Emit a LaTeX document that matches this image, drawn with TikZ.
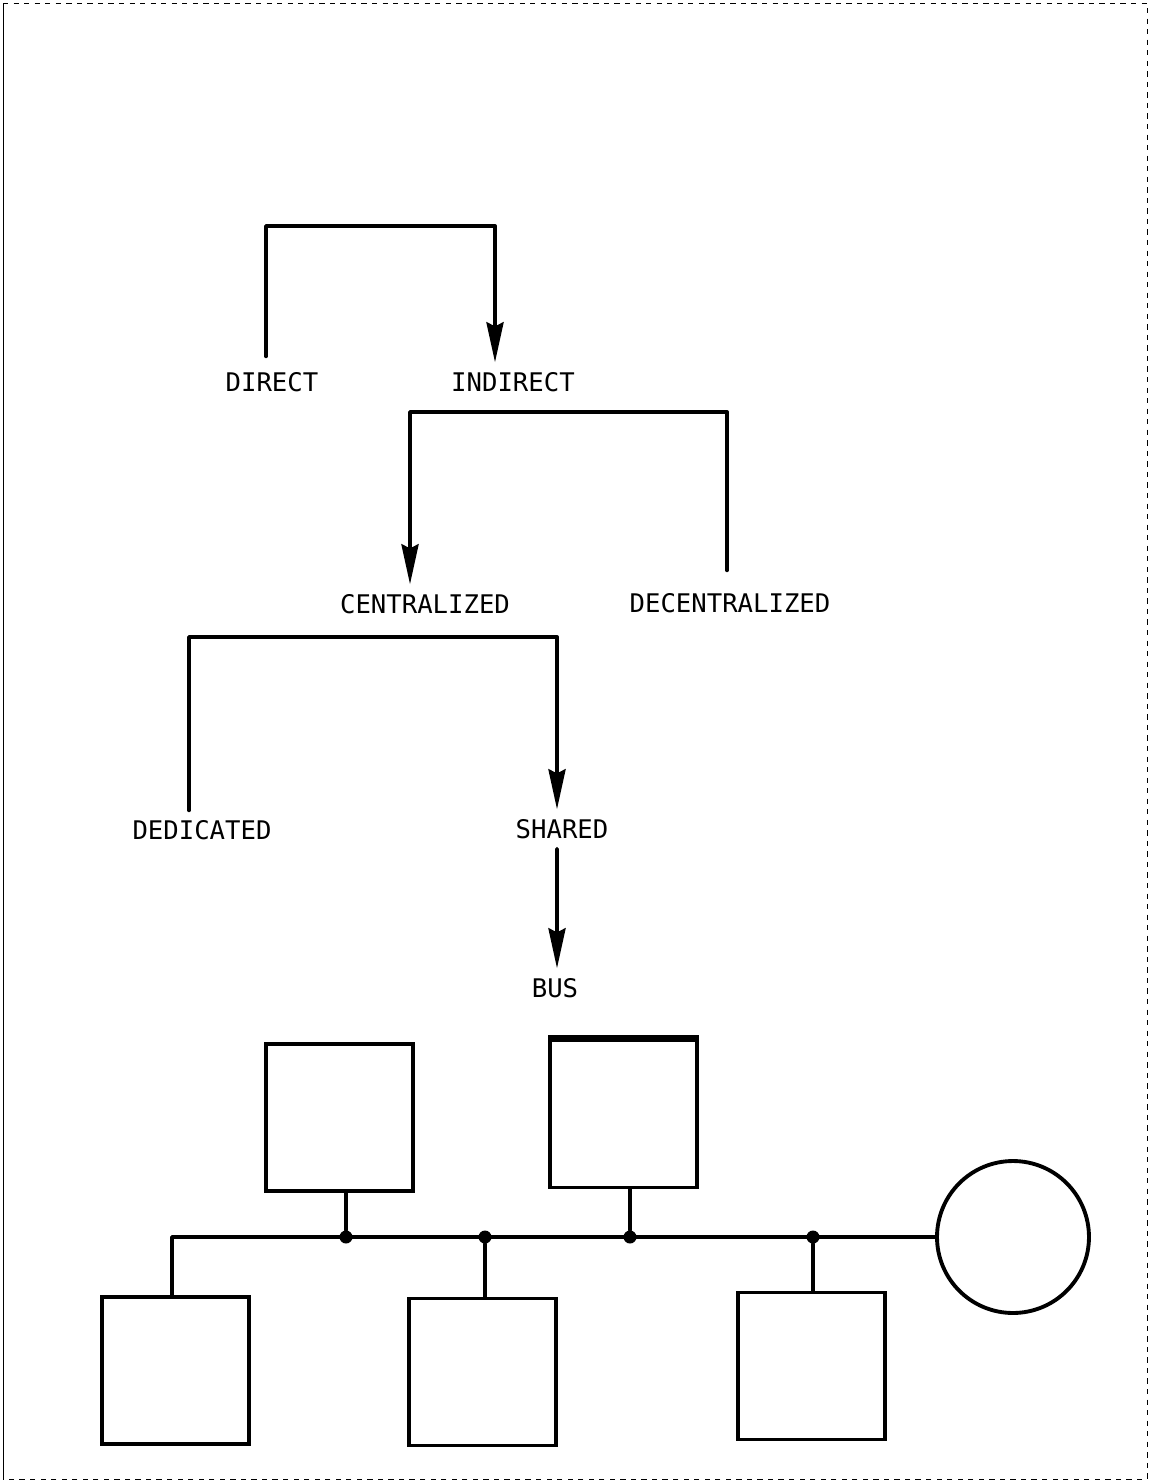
\documentclass[tikz,border=0pt]{standalone}
\usepackage{fontspec}
\usepackage{tikz}
\usetikzlibrary{arrows.meta}
\newfontfamily\typo{DejaVu Sans Mono}

\begin{document}
\begin{tikzpicture}[x=0.02cm, y=-0.02cm,
  lbl/.style={inner sep=0pt, outer sep=0.2cm, font=\typo\fontsize{14.6}{16}\selectfont},
  ln/.style={line width=2.2pt, line cap=round, line join=round},
  fl/.style={ln, -{Stealth[length=0.8cm, width=0.34cm, inset=0.08cm]}},
  unit/.style={draw, line width=2.2pt, minimum width=2.94cm, minimum height=2.94cm, inner sep=0pt},
  tap/.style={circle, fill, inner sep=0pt, minimum size=0.26cm}]

\useasboundingbox (0,0) rectangle (1150,1482);

% cadre de la page
\draw[thin] (3,3) -- (3,1479);
\draw[thin, dashed] (3,3) -- (1147,3) -- (1147,1479) -- (3,1479);

% ── l'arbre ──
\node[lbl] (direct) at (272,382) {DIRECT};
\node[lbl] (indirect) at (513,382) {INDIRECT};
\node[lbl] (central) at (425,604) {CENTRALIZED};
\node[lbl] (decentral) at (730,603) {DECENTRALIZED};
\node[lbl] (dedic) at (202,830) {DEDICATED};
\node[lbl] (shared) at (562,829) {SHARED};
\node[lbl] (bus) at (555,988) {BUS};

\coordinate (top1) at (380,226);
\coordinate (top2) at (560,412);
\coordinate (top3) at (370,637);

\draw[fl] ([xshift=-0.12cm, yshift=0.12cm]direct.north) |- (top1) -| ([xshift=-0.36cm]indirect.north);
\draw[fl] ([xshift=-0.06cm, yshift=0.26cm]decentral.north) |- (top2) -| ([xshift=-0.3cm]central.north);
\draw[fl] ([xshift=-0.26cm]dedic.north) |- (top3) -| ([xshift=-0.1cm]shared.north);
\draw[fl] ([xshift=-0.1cm]shared.south) -- ([xshift=0.04cm]bus.north);

% ── le bus ──
\node[unit] (u1) at (339.5,1117.5) {};
\node[unit] (u2) at (623.5,1114) {};
\node[unit] (u3) at (175.5,1370.5) {};
\node[unit] (u4) at (482.5,1372) {};
\node[unit] (u5) at (811.5,1366) {};
\node[draw, circle, line width=2.2pt, minimum size=3.04cm, inner sep=0pt] (mem) at (1013,1237) {};
\draw[line width=3.6pt] (u2.north west) -- (u2.north east);

\coordinate (busL) at (172,1237);
\node[tap] (j1) at (346,1237) {};
\node[tap] (j2) at (485,1237) {};
\node[tap] (j3) at (630,1237) {};
\node[tap] (j4) at (813,1237) {};

\draw[ln] (busL |- u3.north) -- (busL) -- (mem.west);
\draw[ln] (j1 |- u1.south) -- (j1);
\draw[ln] (j3 |- u2.south) -- (j3);
\draw[ln] (j2) -- (j2 |- u4.north);
\draw[ln] (j4) -- (j4 |- u5.north);

\end{tikzpicture}
\end{document}
